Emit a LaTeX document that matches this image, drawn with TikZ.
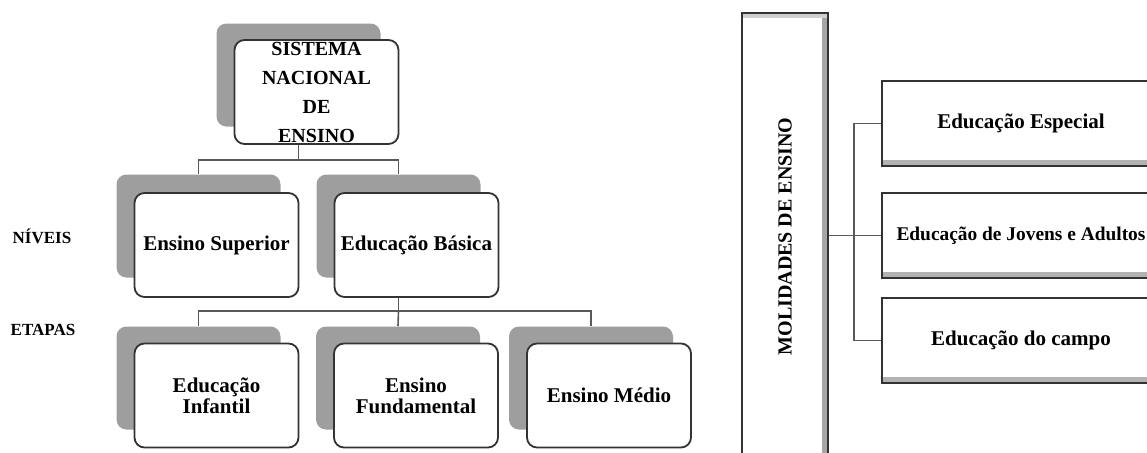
\documentclass[tikz,border=0pt]{standalone}
\usepackage{fontspec}
\setmainfont{Liberation Serif}
\usetikzlibrary{positioning}

\tikzset{
  sombra/.style={rectangle, rounded corners=5pt, fill=black!38, minimum width=82pt, minimum height=51.5pt, inner sep=0pt},
  caixa/.style={rectangle, rounded corners=5pt, draw=black!80, line width=.9pt, fill=white, minimum width=82pt, minimum height=52pt, inner sep=0pt, align=center, font=\bfseries\fontsize{10.5}{10.5}\selectfont},
  rotulo/.style={font=\bfseries\fontsize{8.5}{10}\selectfont},
  liga/.style={draw=black!65, line width=.8pt},
  modbox/.style={rectangle, draw=black!80, line width=.9pt, fill=white, inner sep=0pt, font=\bfseries\fontsize{10.5}{12}\selectfont,
    path picture={\draw[black!30, line width=2.5pt] ([yshift=1.6pt]path picture bounding box.south west) -- ([yshift=1.6pt]path picture bounding box.south east);}},
  modtall/.style={rectangle, draw=black!80, line width=.9pt, fill=white, inner sep=0pt,
    path picture={\draw[black!35, line width=2.5pt] ([xshift=-1.6pt]path picture bounding box.north east) -- ([xshift=-1.6pt]path picture bounding box.south east);
                  \draw[black!18, line width=2pt] ([yshift=-1.4pt]path picture bounding box.north west) -- ([yshift=-1.4pt]path picture bounding box.north east);}}
}

\begin{document}
\begin{tikzpicture}[x=0.5pt, y=-0.5pt]

        \useasboundingbox (0,0) rectangle (1147,452);
        \clip (0,0) rectangle (1147,452);

        % Row labels
        \node[rotulo] (niveis) at (42,236) {NÍVEIS};
        \node[rotulo] (etapas) at (43,330) {ETAPAS};

        % Top box
        \node[sombra] (sSNE) at (298.5,75) {};
        \node[caixa, font=\bfseries\fontsize{10}{14.5}\selectfont] (SNE) at ([shift={(18,17)}]sSNE) {SISTEMA\\NACIONAL\\DE\\ENSINO};

        % Niveis
        \node[sombra] (sES) at (198.5,226) {};
        \node[caixa] (ES) at ([shift={(18,19)}]sES) {Ensino Superior};
        \node[sombra] (sEB) at (398.5,226) {};
        \node[caixa] (EB) at ([shift={(18,19)}]sEB) {Educação Básica};

        % Etapas
        \node[sombra] (sEI) at (198.5,378) {};
        \node[caixa] (EI) at ([shift={(18,17.5)}]sEI) {Educação\\Infantil};
        \node[sombra] (sEF) at (398,378) {};
        \node[caixa] (EF) at ([shift={(18,17.5)}]sEF) {Ensino\\Fundamental};
        \node[sombra] (sEM) at (591,378) {};
        \node[caixa] (EM) at ([shift={(18,17.5)}]sEM) {Ensino Médio};

        % Connectors (left tree)
        \coordinate (b1) at (298.5,160);
        \coordinate (b2) at (398.5,311);
        \draw[liga] (sSNE.south |- SNE.south) -- (b1);
        \draw[liga] (sES.north) |- (b1) -| (sEB.north);
        \draw[liga] (sEB.south |- EB.south) -- (b2);
        \draw[liga] (sEI.north) |- (b2) -| (sEM.north);
        \draw[liga] (b2) -- (sEF.north);

        % Modalidades
        \node[modtall, minimum width=43pt, minimum height=223.5pt] (MOD) at (785,236.5) {};
        \node[rotate=90, font=\bfseries\fontsize{10}{12}\selectfont] (tMOD) at (MOD) {MOLIDADES DE ENSINO};

        \node[modbox, minimum width=139pt, minimum height=42.5pt] (EE) at (1021,123.5) {Educação Especial};
        \node[modbox, minimum width=139pt, minimum height=42.5pt, font=\bfseries\fontsize{9.7}{12}\selectfont] (EJA) at (1021,235.5) {Educação de Jovens e Adultos};
        \node[modbox, minimum width=139pt, minimum height=42.5pt] (EC) at (1021,340.5) {Educação do campo};

        % Connectors (right)
        \coordinate (b3) at (854,0);
        \draw[liga] (MOD.east |- EJA.west) -- (EJA.west);
        \draw[liga] (EE.west) -| (b3 |- EC.west) -- (EC.west);

        \end{tikzpicture}
\end{document}
